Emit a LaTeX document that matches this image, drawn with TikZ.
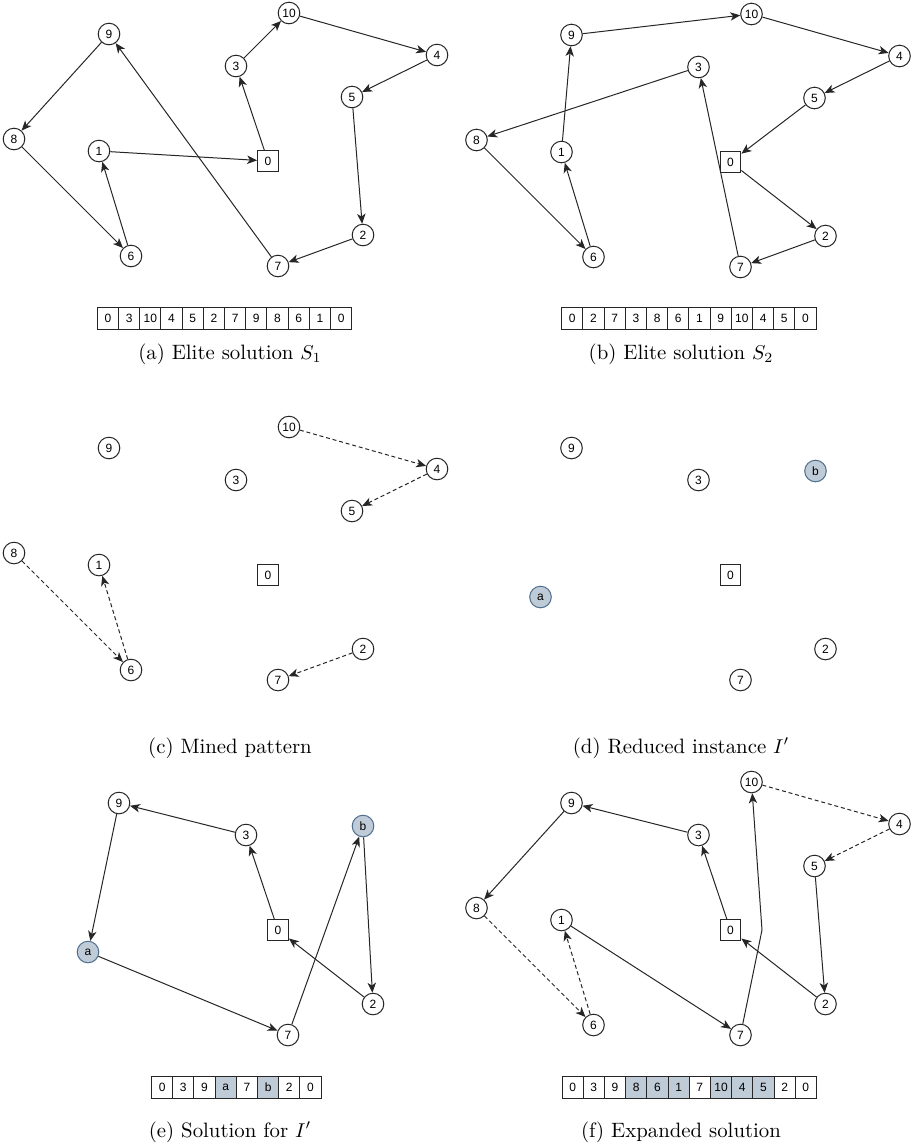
\documentclass[tikz,border=0pt]{standalone}
\usepackage{fontspec}
\newfontfamily\labelfont{Liberation Sans}
\usepackage{tikz}
\usetikzlibrary{arrows.meta}
\definecolor{edgecol}{HTML}{262626}
\definecolor{mergefill}{HTML}{BFCBD7}
\definecolor{mergeline}{HTML}{4F6F8F}

\begin{document}
\begin{tikzpicture}[x=0.5pt,y=-0.5pt,
  city/.style={circle,draw=edgecol,line width=0.5pt,fill=white,minimum size=10.8pt,
               inner sep=0pt,font=\labelfont\fontsize{6}{6}\selectfont},
  depot/.style={city,rectangle,minimum size=10.4pt},
  merged/.style={city,fill=mergefill,draw=mergeline},
  cell/.style={rectangle,draw=edgecol,line width=0.5pt,minimum size=10.6pt,inner sep=0pt,
               font=\labelfont\fontsize{6}{6}\selectfont},
  mcell/.style={cell,fill=mergefill},
  tour/.style={draw=edgecol,line width=0.5pt,-{Stealth[length=5pt,width=4.2pt,inset=1.4pt]}},
  pat/.style={tour,dash pattern=on 2pt off 1.4pt},
  subcap/.style={anchor=base,font=\fontsize{10.4}{12}\selectfont},
]
\useasboundingbox (0,0) rectangle (912,1148);

% (a) elite solution S1
\begin{scope}[name prefix=sa-]
\node[depot] (c0) at (268,161) {0};
\node[city] (c1) at (99,151) {1};
\node[city] (c2) at (363,235) {2};
\node[city] (c3) at (236,66) {3};
\node[city] (c4) at (437,55) {4};
\node[city] (c5) at (352,97) {5};
\node[city] (c6) at (131,256) {6};
\node[city] (c7) at (278,266) {7};
\node[city] (c8) at (14,139) {8};
\node[city] (c9) at (109,34) {9};
\node[city] (c10) at (289,13) {10};
\foreach \u/\v in {c0/c3,c3/c10,c10/c4,c4/c5,c5/c2,c2/c7,c7/c9,c9/c8,c8/c6,c6/c1,c1/c0}
  \draw[tour] (\u) -- (\v);
\foreach \v [count=\i] in {0,3,10,4,5,2,7,9,8,6,1,0}
  \node[cell] (r\i) at (86.7+21.2*\i,318.5) {\v};
\node[subcap] (cap) at (230,359) {(a) Elite solution $S_1$};
\end{scope}

% (b) elite solution S2
\begin{scope}[shift={(462.5,1)},name prefix=sb-]
\node[depot] (c0) at (268,161) {0};
\node[city] (c1) at (99,151) {1};
\node[city] (c2) at (363,235) {2};
\node[city] (c3) at (236,66) {3};
\node[city] (c4) at (437,55) {4};
\node[city] (c5) at (352,97) {5};
\node[city] (c6) at (131,256) {6};
\node[city] (c7) at (278,266) {7};
\node[city] (c8) at (14,139) {8};
\node[city] (c9) at (109,34) {9};
\node[city] (c10) at (289,13) {10};
\foreach \u/\v in {c0/c2,c2/c7,c7/c3,c3/c8,c8/c6,c6/c1,c1/c9,c9/c10,c10/c4,c4/c5,c5/c0}
  \draw[tour] (\u) -- (\v);
\end{scope}
\begin{scope}[name prefix=sb-]
\foreach \v [count=\i] in {0,2,7,3,8,6,1,9,10,4,5,0}
  \node[cell] (r\i) at (551.1+21.2*\i,318.5) {\v};
\node[subcap] (cap) at (681,359) {(b) Elite solution $S_2$};
\end{scope}

% (c) mined pattern
\begin{scope}[shift={(0,414)},name prefix=sc-]
\node[depot] (c0) at (268,161) {0};
\node[city] (c1) at (99,151) {1};
\node[city] (c2) at (363,235) {2};
\node[city] (c3) at (236,66) {3};
\node[city] (c4) at (437,55) {4};
\node[city] (c5) at (352,97) {5};
\node[city] (c6) at (131,256) {6};
\node[city] (c7) at (278,266) {7};
\node[city] (c8) at (14,139) {8};
\node[city] (c9) at (109,34) {9};
\node[city] (c10) at (289,13) {10};
\foreach \u/\v in {c10/c4,c4/c5,c8/c6,c6/c1,c2/c7}
  \draw[pat] (\u) -- (\v);
\end{scope}
\node[subcap] (capc) at (230,753) {(c) Mined pattern};

% (d) reduced instance
\begin{scope}[shift={(462.5,414)},name prefix=sd-]
\node[depot] (c0) at (268,161) {0};
\node[city] (c2) at (363,235) {2};
\node[city] (c3) at (236,66) {3};
\node[city] (c7) at (278,266) {7};
\node[city] (c9) at (109,34) {9};
\node[merged] (ma) at (78,183) {a};
\node[merged] (mb) at (353,57) {b};
\end{scope}
\node[subcap] (capd) at (681,753) {(d) Reduced instance $I'$};

% (e) solution for the reduced instance
\begin{scope}[shift={(10,769)},name prefix=se-]
\node[depot] (c0) at (268,161) {0};
\node[city] (c2) at (363,235) {2};
\node[city] (c3) at (236,66) {3};
\node[city] (c7) at (278,266) {7};
\node[city] (c9) at (109,34) {9};
\node[merged] (ma) at (78,183) {a};
\node[merged] (mb) at (353,57) {b};
\foreach \u/\v in {c0/c3,c3/c9,c9/ma,ma/c7,c7/mb,mb/c2,c2/c0}
  \draw[tour] (\u) -- (\v);
\end{scope}
\begin{scope}[name prefix=se-]
\foreach \v/\s [count=\i] in {0/cell,3/cell,9/cell,a/mcell,7/cell,b/mcell,2/cell,0/cell}
  \node[\s] (r\i) at (140.9+21.2*\i,1087.5) {\v};
\node[subcap] (cap) at (230,1137) {(e) Solution for $I'$};
\end{scope}

% (f) expanded solution
\begin{scope}[shift={(462.5,769)},name prefix=sf-]
\node[depot] (c0) at (268,161) {0};
\node[city] (c1) at (99,151) {1};
\node[city] (c2) at (363,235) {2};
\node[city] (c3) at (236,66) {3};
\node[city] (c4) at (437,55) {4};
\node[city] (c5) at (352,97) {5};
\node[city] (c6) at (131,256) {6};
\node[city] (c7) at (278,266) {7};
\node[city] (c8) at (14,139) {8};
\node[city] (c9) at (109,34) {9};
\node[city] (c10) at (289,13) {10};
\coordinate (kink) at (299.5,161);
\foreach \u/\v in {c0/c3,c3/c9,c9/c8,c1/c7,c5/c2,c2/c0}
  \draw[tour] (\u) -- (\v);
\foreach \u/\v in {c8/c6,c6/c1,c10/c4,c4/c5}
  \draw[pat] (\u) -- (\v);
\draw[tour] (c7) -- (kink) -- (c10);
\end{scope}
\begin{scope}[name prefix=sf-]
\foreach \v/\s [count=\i] in {0/cell,3/cell,9/cell,8/mcell,6/mcell,1/mcell,7/cell,10/mcell,4/mcell,5/mcell,2/cell,0/cell}
  \node[\s] (r\i) at (551.4+21.2*\i,1087.5) {\v};
\node[subcap] (cap) at (681,1137) {(f) Expanded solution};
\end{scope}
\end{tikzpicture}
\end{document}
